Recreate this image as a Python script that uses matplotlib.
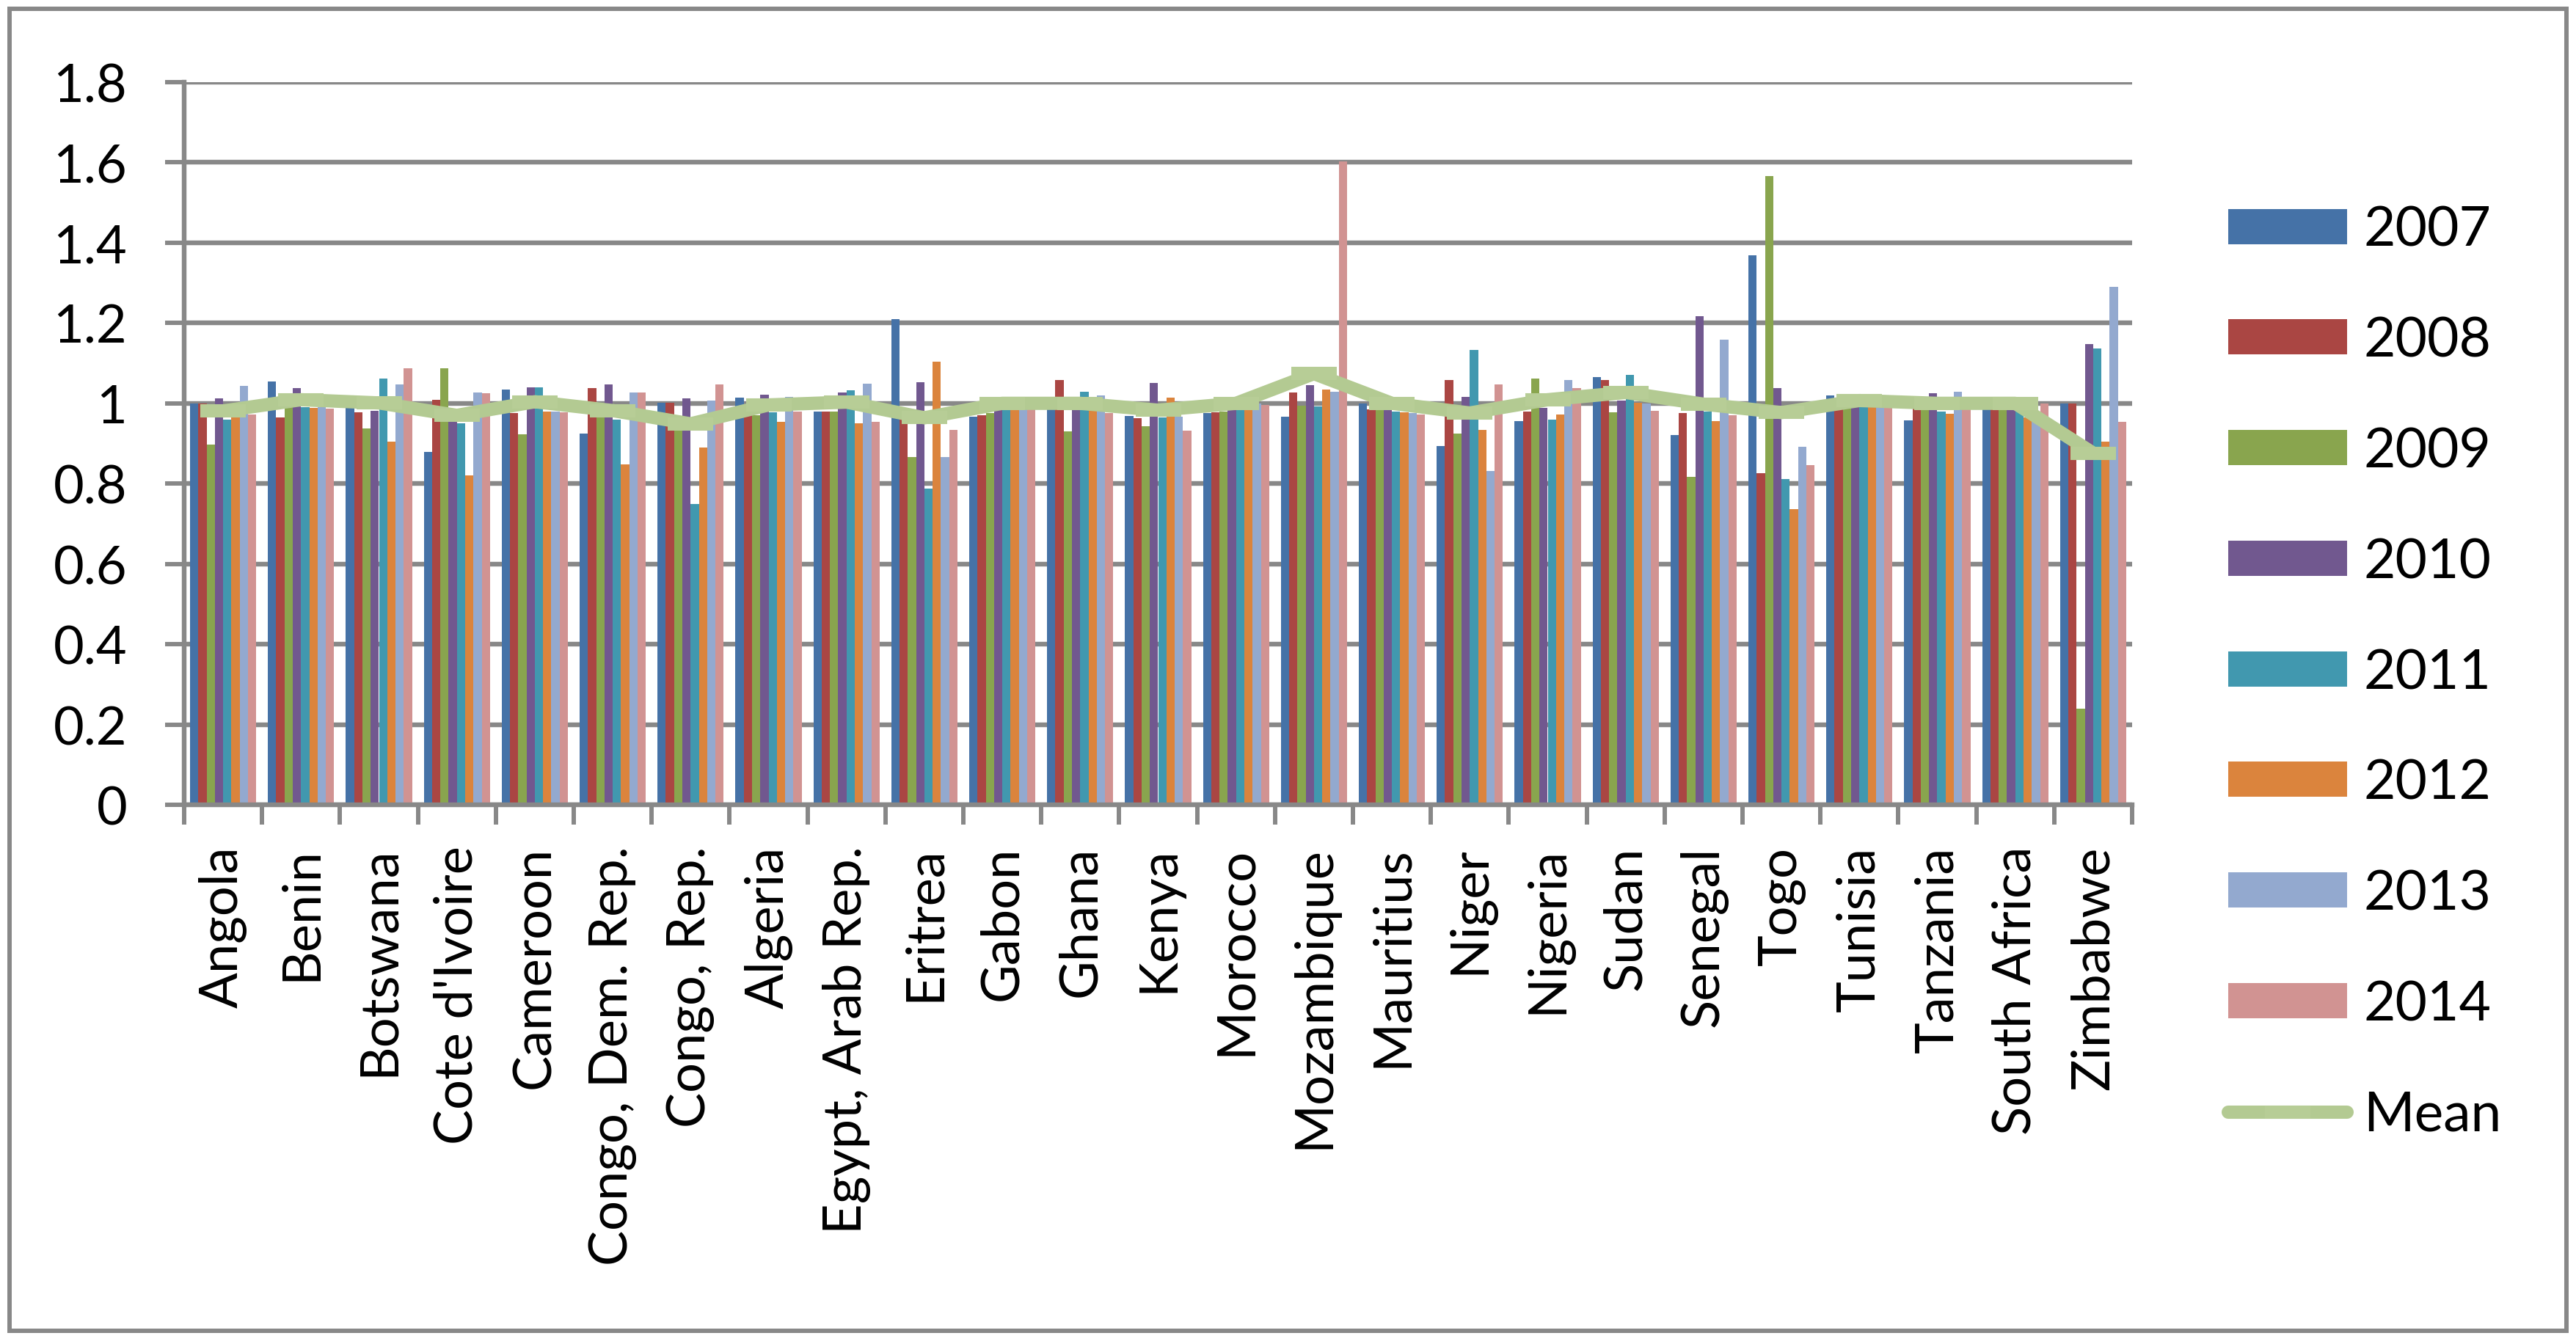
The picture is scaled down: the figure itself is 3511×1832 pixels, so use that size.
import numpy as np
import matplotlib
matplotlib.use('Agg')
import matplotlib.pyplot as plt
from matplotlib.patches import Patch, Rectangle

plt.rcParams['font.family'] = ['Lato', 'DejaVu Sans']

countries = ["Angola", "Benin", "Botswana", "Cote d'Ivoire", "Cameroon",
             "Congo, Dem. Rep.", "Congo, Rep.", "Algeria", "Egypt, Arab Rep.",
             "Eritrea", "Gabon", "Ghana", "Kenya", "Morocco", "Mozambique",
             "Mauritius", "Niger", "Nigeria", "Sudan", "Senegal", "Togo",
             "Tunisia", "Tanzania", "South Africa", "Zimbabwe"]

y2007 = [1.00, 1.054, 0.99, 0.879, 1.034, 0.924, 1.001, 1.014, 0.98, 1.209, 0.967, 0.99, 0.969,
         0.975, 0.967, 1.0, 0.893, 0.956, 1.065, 0.921, 1.368, 1.020, 0.958, 0.99, 1.0]
y2008 = [1.00, 0.965, 0.977, 1.009, 0.976, 1.038, 1.001, 0.97, 0.98, 0.96, 0.971, 1.058, 0.963,
         0.978, 1.027, 0.985, 1.058, 0.98, 1.058, 0.976, 0.826, 0.99, 0.99, 0.99, 1.0]
y2009 = [0.897, 0.99, 0.937, 1.087, 0.923, 0.97, 0.95, 0.97, 0.98, 0.866, 0.975, 0.930, 0.943,
         0.98, 0.994, 0.983, 0.924, 1.062, 0.977, 0.817, 1.566, 0.99, 0.99, 0.99, 0.240]
y2010 = [1.012, 1.038, 0.982, 0.96, 1.040, 1.047, 1.012, 1.021, 1.027, 1.052, 0.99, 0.99, 1.051,
         0.983, 1.045, 0.983, 1.016, 0.988, 1.007, 1.217, 1.038, 0.99, 1.025, 0.99, 1.148]
y2011 = [0.959, 0.990, 1.062, 0.95, 1.040, 0.96, 0.749, 0.977, 1.032, 0.787, 0.99, 1.029, 0.965,
         0.983, 0.992, 0.980, 1.133, 0.959, 1.071, 0.98, 0.811, 0.99, 0.98, 0.99, 1.137]
y2012 = [0.97, 0.988, 0.904, 0.820, 0.98, 0.848, 0.890, 0.954, 0.950, 1.104, 0.99, 0.99, 1.014,
         0.99, 1.034, 0.978, 0.934, 0.972, 1.002, 0.956, 0.736, 0.99, 0.974, 0.965, 0.904]
y2013 = [1.043, 0.99, 1.047, 1.027, 0.98, 1.027, 1.007, 1.016, 1.049, 0.866, 1.0, 1.020, 0.967,
         1.0, 1.029, 0.976, 0.831, 1.058, 1.0, 1.159, 0.892, 0.99, 1.029, 0.97, 1.290]
y2014 = [0.973, 0.987, 1.087, 1.025, 0.977, 1.027, 1.047, 0.98, 0.954, 0.934, 1.0, 0.975, 0.932,
         0.996, 1.603, 0.972, 1.047, 1.038, 0.981, 0.971, 0.846, 0.99, 0.99, 1.0, 0.954]
mean = [0.981, 1.009, 1.001, 0.970, 1.004, 0.982, 0.949, 0.996, 1.003, 0.964, 1.0, 1.0, 0.983,
        1.0, 1.074, 1.0, 0.976, 1.009, 1.027, 0.998, 0.977, 1.007, 1.0, 1.0, 0.876]

years = ['2007', '2008', '2009', '2010', '2011', '2012', '2013', '2014']
series = [y2007, y2008, y2009, y2010, y2011, y2012, y2013, y2014]
colors = ['#4572A7', '#AA4643', '#89A54E', '#71588F', '#4198AF', '#DB843D', '#93A9CF', '#D19392']
grey = '#888888'

fig = plt.figure(figsize=(35.11, 18.33), dpi=100)
ax = fig.add_axes([251 / 3511, 1 - 1098 / 1833, (2906 - 251) / 3511, (1098 - 113) / 1833])

x = np.arange(len(countries))
w = 0.85 / 8
handles = []
for j, (vals, c, lab) in enumerate(zip(series, colors, years)):
    ax.bar(x + (j - 3.5) * w, vals, width=w, color=c, linewidth=0, zorder=2)
    handles.append(Patch(facecolor=c, label=lab))

ln, = ax.plot(x, mean, color='#B3CA92', lw=13, solid_capstyle='round', solid_joinstyle='round',
              marker='_', ms=45, mew=13, mec='#B7CD96', zorder=5, label='Mean')
handles.append(ln)

ax.set_xlim(-0.5, len(countries) - 0.5)
ax.set_ylim(0, 1.8)
ax.set_yticks(np.arange(0, 1.81, 0.2))
ax.set_yticklabels(['0', '0.2', '0.4', '0.6', '0.8', '1', '1.2', '1.4', '1.6', '1.8'])
ax.set_xticks(x)
ax.set_xticklabels(countries, rotation=90)
ax.set_xticks(np.arange(len(countries) + 1) - 0.5, minor=True)

ax.tick_params(axis='y', length=19, width=4.3, color=grey, pad=37, labelsize=52)
ax.tick_params(axis='x', which='major', length=0, pad=40, labelsize=52)
ax.tick_params(axis='x', which='minor', length=19.5, width=4.3, color=grey)

ax.grid(axis='y', color=grey, lw=4.6)
ax.set_axisbelow(True)
for s in ['top', 'right']:
    ax.spines[s].set_visible(False)
for s in ['left', 'bottom']:
    ax.spines[s].set_color(grey)
    ax.spines[s].set_linewidth(4.6)
    ax.spines[s].set_zorder(3)

fig.legend(handles=handles, labels=years + ['Mean'], loc='upper left',
           bbox_to_anchor=(3037 / 3511, 1 - 280 / 1833), frameon=False, fontsize=54,
           borderpad=0, borderaxespad=0, handlelength=2.16, handleheight=0.61,
           handletextpad=0.3, labelspacing=1.09)

fig.add_artist(Rectangle((13 / 3511, 18 / 1833), (3498 - 13) / 3511, (1815 - 13) / 1833,
                         transform=fig.transFigure, fill=False, ec=grey, lw=4.3))

fig.savefig('out.png', dpi=100)
